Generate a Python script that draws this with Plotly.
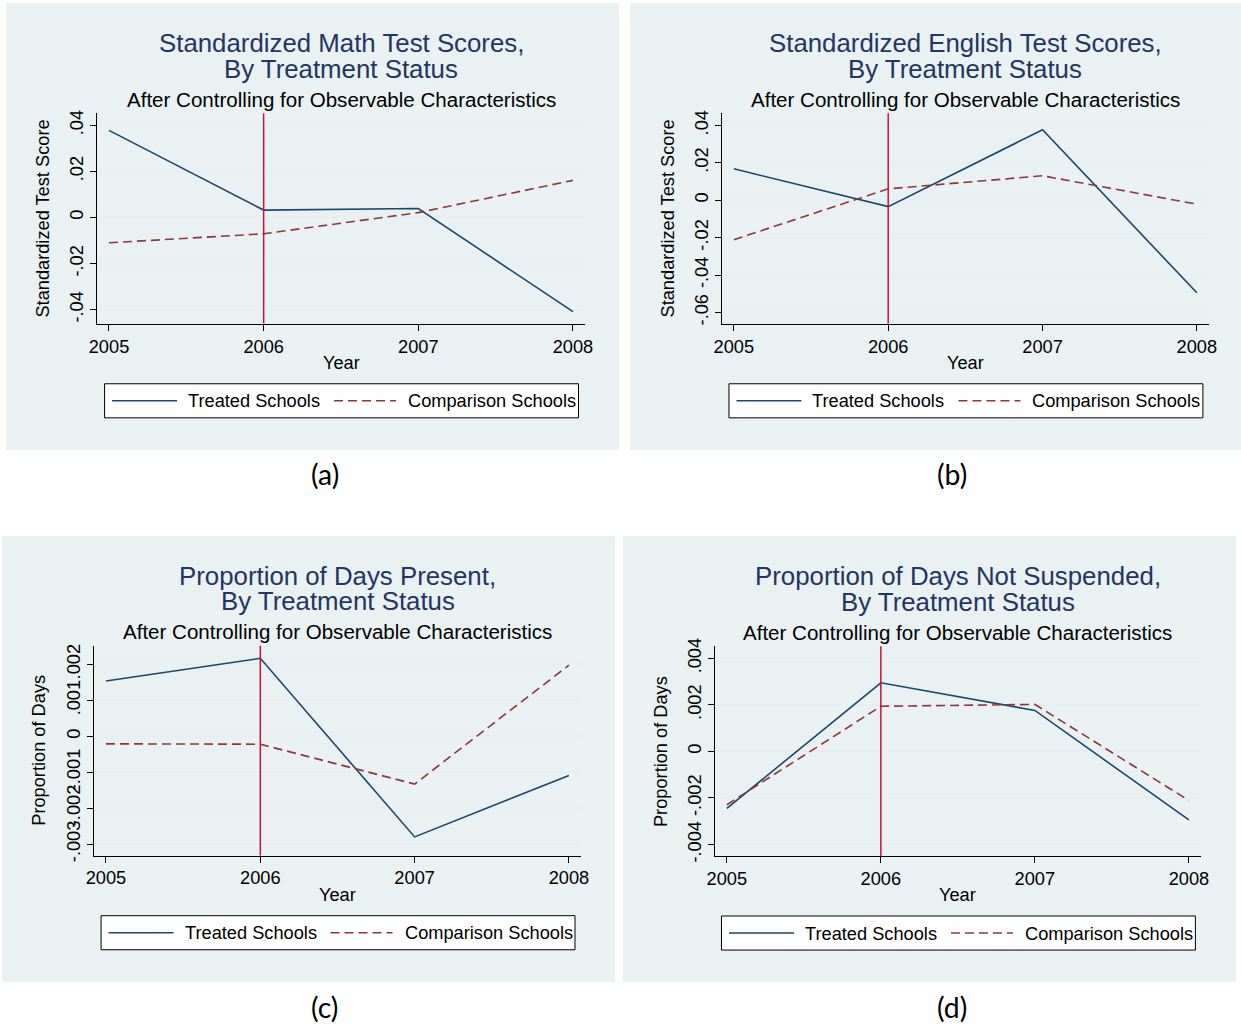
import plotly.graph_objects as go

# ---- data ---------------------------------------------------------------
years = [2005, 2006, 2007, 2008]
year_labels = ["2005", "2006", "2007", "2008"]

math_treated = [0.0378, 0.0032, 0.0039, -0.0409]
math_comparison = [-0.0110, -0.0071, 0.0021, 0.0161]

english_treated = [0.0168, -0.0034, 0.0377, -0.0495]
english_comparison = [-0.0211, 0.0061, 0.0131, -0.0021]

present_treated = [0.00154, 0.00217, -0.00280, -0.00109]
present_comparison = [-0.00021, -0.00022, -0.00133, 0.00198]

suspended_treated = [-0.00245, 0.00295, 0.00176, -0.00294]
suspended_comparison = [-0.00229, 0.00194, 0.00202, -0.00211]

math_ticks = [-0.04, -0.02, 0, 0.02, 0.04]
math_ticktext = ["-.04", "-.02", "0", ".02", ".04"]
english_ticks = [-0.06, -0.04, -0.02, 0, 0.02, 0.04]
english_ticktext = ["-.06", "-.04", "-.02", "0", ".02", ".04"]
present_ticks = [-0.003, -0.002, -0.001, 0, 0.001, 0.002]
present_ticktext = ["-.003", "-.002", "-.001", "0", ".001", ".002"]
suspended_ticks = [-0.004, -0.002, 0, 0.002, 0.004]
suspended_ticktext = ["-.004", "-.002", "0", ".002", ".004"]

titles = [
    ("Standardized Math Test Scores,", "By Treatment Status"),
    ("Standardized English Test Scores,", "By Treatment Status"),
    ("Proportion of Days Present,", "By Treatment Status"),
    ("Proportion of Days Not Suspended,", "By Treatment Status"),
]
subtitle = "After Controlling for Observable Characteristics"
y_titles = ["Standardized Test Score", "Standardized Test Score",
            "Proportion of Days", "Proportion of Days"]
x_title = "Year"
series_names = ["Treated Schools", "Comparison Schools"]
captions = ["(a)", "(b)", "(c)", "(d)"]
policy_year = 2006

# ---- layout geometry -----------------------------------------------------
# Positions below are given in on-screen pixels; the page body keeps its
# 8px margin and the full page is shown scaled into the window, so screen
# coordinates are converted back to figure coordinates.
W, H = 1241, 1024
BODY_MARGIN = 8
SX = W / (W + 2 * BODY_MARGIN)
SY = H / (H + 2 * BODY_MARGIN)
FS = 1 / SX          # font scale to compensate for the page scaling

panels = [
    dict(bg=(6, 3, 619, 449), plot=(97, 113, 585, 323), yr=(-0.0461, 0.0452),
         cap=(325, 473), tr=math_treated, cp=math_comparison,
         tv=math_ticks, tt=math_ticktext),
    dict(bg=(630, 3, 1241, 449), plot=(722, 113, 1209, 323), yr=(-0.0660, 0.0465),
         cap=(952, 473), tr=english_treated, cp=english_comparison,
         tv=english_ticks, tt=english_ticktext),
    dict(bg=(2, 535, 615, 980), plot=(94, 644.5, 581, 854), yr=(-0.00332, 0.00252),
         cap=(324, 1005), tr=present_treated, cp=present_comparison,
         tv=present_ticks, tt=present_ticktext),
    dict(bg=(623, 535, 1236, 980), plot=(715, 645, 1201, 854.3), yr=(-0.00449, 0.00452),
         cap=(952, 1005), tr=suspended_treated, cp=suspended_comparison,
         tv=suspended_ticks, tt=suspended_ticktext),
]
x_range = [2004.923, 2008.078]

FONT = "Liberation Sans, Arial, sans-serif"
PANEL_BG = "#E9F1F3"
GRID = "#E6EEF1"
TITLE_COLOR = "#233563"
NAVY = "#1A476F"
MAROON = "#90353B"
RED = "#D0103A"
DASH = "9px,5px"


def px(x):
    return (x / SX - BODY_MARGIN) / W


def py(y):
    return 1 - (y / SY - BODY_MARGIN) / H


def fnt(size, color="#000", family=FONT):
    return dict(family=family, size=size * FS, color=color)


fig = go.Figure()
shapes = []
annotations = []
layout_axes = {}

for i, p in enumerate(panels, start=1):
    xa = "x" if i == 1 else f"x{i}"
    ya = "y" if i == 1 else f"y{i}"
    l, t, r, b = p["plot"]
    cx = (l + r) / 2

    fig.add_trace(go.Scatter(x=years, y=p["tr"], mode="lines", name=series_names[0],
                             line=dict(color=NAVY, width=1.6),
                             xaxis=xa, yaxis=ya, showlegend=False))
    fig.add_trace(go.Scatter(x=years, y=p["cp"], mode="lines", name=series_names[1],
                             line=dict(color=MAROON, width=1.6, dash=DASH),
                             xaxis=xa, yaxis=ya, showlegend=False))

    layout_axes["xaxis" if i == 1 else f"xaxis{i}"] = dict(
        domain=[px(l), px(r)], range=x_range, anchor=ya,
        tickmode="array", tickvals=years, ticktext=year_labels,
        ticks="outside", ticklen=6, tickwidth=1, tickcolor="#000",
        showline=True, linecolor="#000", linewidth=1,
        showgrid=False, zeroline=False,
        tickfont=fnt(18),
    )
    layout_axes["yaxis" if i == 1 else f"yaxis{i}"] = dict(
        domain=[py(b), py(t)], range=list(p["yr"]), anchor=xa,
        tickmode="array", tickvals=p["tv"], ticktext=p["tt"], tickangle=-90,
        ticks="outside", ticklen=6, tickwidth=1, tickcolor="#000",
        showline=True, linecolor="#000", linewidth=1,
        showgrid=True, gridcolor=GRID, gridwidth=1.5, zeroline=False,
        tickfont=fnt(18),
    )

    # panel background
    x0, y0, x1, y1 = p["bg"]
    shapes.append(dict(type="rect", xref="paper", yref="paper", layer="below",
                       x0=px(x0), x1=px(x1), y0=py(y1), y1=py(y0),
                       fillcolor=PANEL_BG, line=dict(width=0)))
    # reference line at the policy year
    shapes.append(dict(type="line", xref=xa, yref=f"{ya} domain",
                       x0=policy_year, x1=policy_year, y0=0, y1=1,
                       line=dict(color=RED, width=1.5)))

    # titles
    annotations.append(dict(text=titles[i - 1][0], x=px(cx), y=py(t - 70),
                            xref="paper", yref="paper", showarrow=False,
                            xanchor="center", yanchor="middle",
                            font=fnt(25.5, TITLE_COLOR)))
    annotations.append(dict(text=titles[i - 1][1], x=px(cx), y=py(t - 44.5),
                            xref="paper", yref="paper", showarrow=False,
                            xanchor="center", yanchor="middle",
                            font=fnt(25.5, TITLE_COLOR)))
    annotations.append(dict(text=subtitle, x=px(cx), y=py(t - 14),
                            xref="paper", yref="paper", showarrow=False,
                            xanchor="center", yanchor="middle",
                            font=fnt(20.3)))
    # axis titles
    annotations.append(dict(text=y_titles[i - 1], x=px(l - 55), y=py((t + b) / 2),
                            xref="paper", yref="paper", showarrow=False, textangle=-90,
                            xanchor="center", yanchor="middle",
                            font=fnt(18)))
    annotations.append(dict(text=x_title, x=px(cx), y=py(b + 39),
                            xref="paper", yref="paper", showarrow=False,
                            xanchor="center", yanchor="middle",
                            font=fnt(18)))

    # legend box
    lt, lb = b + 60, b + 94
    lm = (lt + lb) / 2
    shapes.append(dict(type="rect", xref="paper", yref="paper",
                       x0=px(cx - 236.5), x1=px(cx + 237.5), y0=py(lb), y1=py(lt),
                       fillcolor="white", line=dict(color="#000", width=1)))
    shapes.append(dict(type="line", xref="paper", yref="paper",
                       x0=px(cx - 229), x1=px(cx - 164), y0=py(lm), y1=py(lm),
                       line=dict(color=NAVY, width=1.6)))
    shapes.append(dict(type="line", xref="paper", yref="paper",
                       x0=px(cx - 7), x1=px(cx + 55), y0=py(lm), y1=py(lm),
                       line=dict(color=MAROON, width=1.6, dash=DASH)))
    annotations.append(dict(text=series_names[0], x=px(cx - 155), y=py(lm),
                            xref="paper", yref="paper", showarrow=False,
                            xanchor="left", yanchor="middle",
                            font=fnt(18)))
    annotations.append(dict(text=series_names[1], x=px(cx + 65), y=py(lm),
                            xref="paper", yref="paper", showarrow=False,
                            xanchor="left", yanchor="middle",
                            font=fnt(18)))

    # panel caption
    annotations.append(dict(text=captions[i - 1], x=px(p["cap"][0]), y=py(p["cap"][1]),
                            xref="paper", yref="paper", showarrow=False,
                            xanchor="center", yanchor="middle",
                            font=fnt(28, family="Lato, Carlito, sans-serif")))

fig.update_layout(
    width=W, height=H,
    margin=dict(l=0, r=0, t=0, b=0),
    paper_bgcolor="white", plot_bgcolor="white",
    showlegend=False,
    shapes=shapes, annotations=annotations,
    **layout_axes,
)

fig.write_html("out.html")
